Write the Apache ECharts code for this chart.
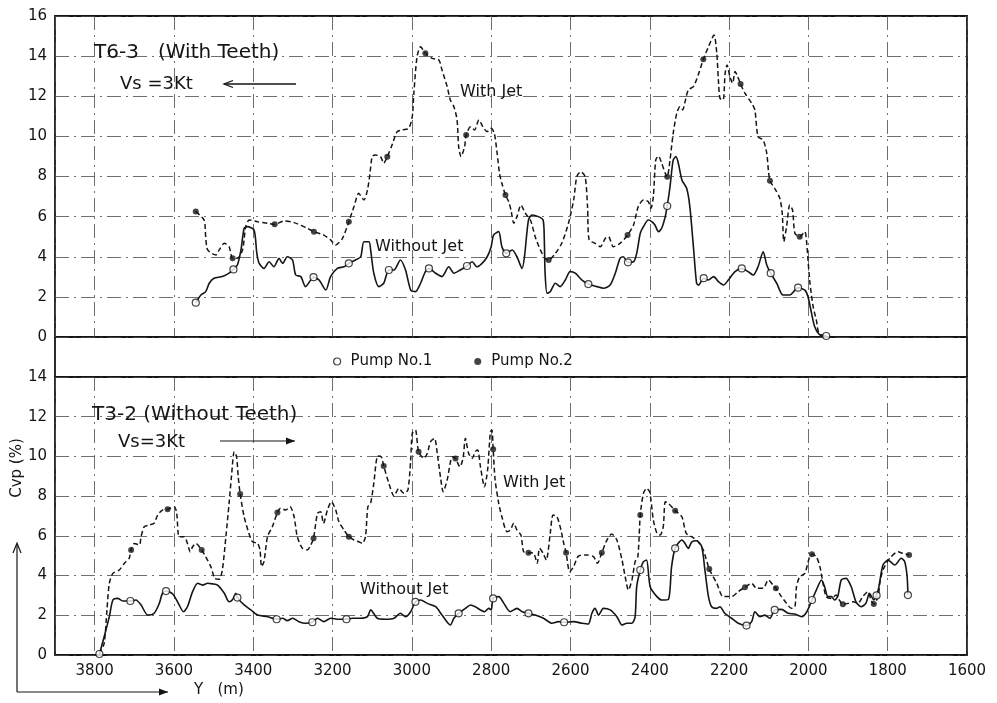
<!DOCTYPE html>
<html>
<head>
<meta charset="utf-8">
<script src="https://cdn.jsdelivr.net/npm/echarts@6/dist/echarts.min.js"></script>
<style>
  html, body { margin: 0; padding: 0; background: #fff; }
  #main { width: 997px; height: 703px; }
</style>
</head>
<body>
<div id="main"></div>
<script>
// Cvp (%) along track position Y (m); upper panel T6-3 (with teeth), lower panel T3-2 (without teeth)

const topWithJet = [
  [3545,6.25],[3524,5.83],[3520,5.0],[3515,4.34],[3494,4.09],[3486,4.34],[3473,4.67],[3461,4.5],[3452,3.92],[3440,3.92],
  [3427,4.34],[3419,5.5],[3410,5.83],[3389,5.75],[3364,5.67],[3346,5.62],[3322,5.78],[3297,5.7],[3264,5.42],[3247,5.25],
  [3222,5.08],[3205,4.84],[3192,4.59],[3175,4.92],[3159,5.75],[3146,6.5],[3134,7.16],[3121,6.83],[3112,7.33],[3106,8.1],
  [3100,9.0],[3092,9.07],[3079,8.99],[3071,8.66],[3062,8.99],[3050,9.57],[3037,10.24],[3024,10.32],[3008,10.4],[2999,10.98],
  [2995,12.15],[2987,13.97],[2978,14.47],[2966,14.14],[2949,13.89],[2932,13.81],[2924,13.31],[2911,12.48],[2903,11.81],[2894,11.48],
  [2886,10.82],[2882,9.49],[2876,8.99],[2867,9.49],[2863,10.07],[2852,10.48],[2842,10.32],[2831,10.82],[2821,10.48],[2810,10.24],
  [2800,10.4],[2792,10.15],[2785,9.16],[2779,8.16],[2773,7.66],[2764,7.08],[2756,6.75],[2750,6.33],[2743,5.67],[2735,6.0],
  [2725,6.58],[2714,6.17],[2701,5.83],[2689,5.0],[2676,4.34],[2664,3.92],[2655,3.84],[2638,4.17],[2622,4.67],[2605,5.67],
  [2592,6.83],[2584,8.0],[2574,8.24],[2563,7.99],[2557,6.5],[2553,4.84],[2538,4.67],[2525,4.5],[2512,4.92],[2504,5.0],
  [2492,4.5],[2475,4.67],[2456,5.08],[2441,5.58],[2429,6.5],[2416,6.83],[2404,6.75],[2397,6.42],[2391,7.0],[2385,8.82],
  [2378,9.02],[2370,8.66],[2361,8.16],[2356,7.99],[2349,8.82],[2341,10.15],[2332,11.15],[2324,11.48],[2317,11.32],[2311,11.73],
  [2303,12.31],[2290,12.48],[2278,13.06],[2265,13.84],[2252,14.47],[2238,15.05],[2231,14.14],[2227,12.81],[2223,11.9],[2215,11.81],
  [2210,13.14],[2205,13.56],[2198,12.98],[2191,12.65],[2185,13.23],[2180,13.06],[2171,12.61],[2160,12.15],[2143,11.65],[2135,11.32],
  [2127,9.98],[2114,9.82],[2105,9.16],[2101,8.33],[2097,7.79],[2085,7.41],[2072,6.91],[2066,6.17],[2062,4.75],[2055,5.5],
  [2047,6.58],[2040,6.33],[2034,5.17],[2022,5.0],[2009,5.25],[2005,4.84],[2001,3.84],[1996,2.68],[1988,1.51],[1980,0.85],
  [1973,0.18],[1955,0.05]
];

const topWithoutJet = [
  [3545,1.71],[3532,2.09],[3520,2.26],[3511,2.68],[3499,2.93],[3478,3.01],[3461,3.18],[3450,3.37],[3440,3.59],[3431,4.34],
  [3423,5.42],[3415,5.5],[3398,5.33],[3391,4.17],[3385,3.67],[3373,3.42],[3360,3.75],[3348,3.5],[3335,3.92],[3326,3.67],
  [3314,4.0],[3301,3.84],[3293,3.09],[3280,3.01],[3268,2.51],[3248,2.98],[3234,2.84],[3217,2.34],[3205,3.01],[3188,3.42],
  [3171,3.5],[3159,3.67],[3142,3.84],[3129,4.0],[3121,4.75],[3108,4.75],[3104,4.34],[3096,3.18],[3083,2.51],[3071,2.68],
  [3058,3.34],[3045,3.34],[3029,3.84],[3016,3.34],[3003,2.34],[2991,2.26],[2978,2.68],[2966,3.26],[2957,3.42],[2940,3.18],
  [2924,3.01],[2907,3.5],[2894,3.18],[2878,3.34],[2861,3.54],[2848,3.75],[2836,3.5],[2823,3.67],[2810,4.0],[2800,4.5],
  [2794,5.08],[2781,5.25],[2773,4.5],[2762,4.17],[2747,4.34],[2735,4.0],[2722,3.42],[2716,4.0],[2706,5.83],[2697,6.08],
  [2681,6.0],[2669,5.83],[2666,4.84],[2664,3.18],[2659,2.18],[2651,2.26],[2638,2.68],[2626,2.51],[2613,2.84],[2601,3.26],
  [2588,3.18],[2571,2.84],[2555,2.64],[2533,2.51],[2517,2.43],[2500,2.59],[2487,3.18],[2475,3.92],[2467,4.0],[2455,3.72],
  [2441,3.75],[2433,4.17],[2424,5.17],[2416,5.5],[2404,5.83],[2395,5.75],[2387,5.58],[2378,5.25],[2370,5.42],[2361,6.0],
  [2356,6.53],[2349,7.49],[2341,8.82],[2334,8.99],[2328,8.66],[2319,7.83],[2307,7.41],[2299,6.5],[2290,4.5],[2282,2.68],
  [2277,2.59],[2264,2.93],[2252,2.84],[2239,3.01],[2227,2.76],[2214,2.59],[2202,2.84],[2185,3.26],[2168,3.42],[2152,3.26],
  [2139,3.09],[2127,3.5],[2114,4.25],[2105,3.59],[2095,3.18],[2080,2.68],[2064,2.09],[2047,2.09],[2026,2.46],[2009,2.34],
  [2001,2.01],[1992,1.18],[1984,0.51],[1971,0.1],[1955,0.05]
];

const topPump1 = [
  [3545,1.71],[3450,3.37],[3248,2.98],[3159,3.67],[3058,3.34],[2957,3.42],[2861,3.54],[2762,4.17],
  [2555,2.64],[2455,3.72],[2356,6.53],[2264,2.93],[2168,3.42],[2095,3.18],[2026,2.46],[1955,0.05]
];
const topPump2 = [
  [3545,6.25],[3452,3.92],[3346,5.62],[3247,5.25],[3159,5.75],[3062,8.99],[2966,14.14],[2863,10.07],
  [2764,7.08],[2655,3.84],[2456,5.08],[2356,7.99],[2265,13.84],[2171,12.61],[2097,7.79],[2022,5.0]
];

const botWithJet = [
  [3788,0.05],[3776,0.59],[3769,2.27],[3763,3.61],[3754,4.11],[3738,4.28],[3725,4.62],[3713,4.87],[3708,5.29],[3700,5.62],
  [3687,5.54],[3683,5.96],[3675,6.46],[3662,6.55],[3650,6.63],[3641,7.05],[3629,7.3],[3616,7.34],[3599,7.47],[3593,7.13],
  [3587,5.96],[3574,5.96],[3566,5.62],[3559,5.2],[3553,5.45],[3545,5.62],[3530,5.29],[3520,4.95],[3507,4.45],[3497,3.86],
  [3486,3.81],[3478,4.28],[3469,5.96],[3461,7.64],[3455,8.98],[3448,10.24],[3442,9.98],[3438,8.98],[3433,8.11],[3423,6.96],
  [3411,6.13],[3402,5.7],[3389,5.62],[3383,5.29],[3379,4.45],[3373,4.7],[3364,5.96],[3352,6.46],[3339,7.17],[3331,7.39],
  [3318,7.3],[3307,7.47],[3297,6.96],[3289,5.96],[3276,5.37],[3264,5.29],[3255,5.54],[3248,5.88],[3238,7.13],[3230,7.22],
  [3223,6.63],[3213,7.3],[3203,7.72],[3192,7.3],[3184,6.71],[3171,6.29],[3159,5.96],[3146,5.79],[3134,5.7],[3125,5.62],
  [3117,5.96],[3111,7.47],[3104,7.64],[3096,8.65],[3086,10.02],[3077,9.98],[3071,9.52],[3058,8.65],[3045,8.01],[3033,8.39],
  [3020,8.14],[3010,8.31],[3003,9.82],[2999,11.16],[2991,11.33],[2983,10.24],[2970,9.9],[2961,10.16],[2953,10.74],[2943,10.91],
  [2936,10.16],[2928,8.98],[2921,8.22],[2911,8.81],[2898,9.98],[2890,9.9],[2879,9.48],[2871,9.9],[2865,10.91],[2857,10.16],
  [2848,9.9],[2840,10.24],[2834,10.32],[2827,9.48],[2817,8.47],[2809,9.32],[2802,11.24],[2798,11.33],[2795,10.36],[2790,8.81],
  [2781,7.64],[2773,6.96],[2760,6.21],[2752,6.29],[2743,6.63],[2735,6.29],[2725,6.04],[2718,5.2],[2706,5.15],[2693,5.12],
  [2684,4.62],[2678,5.37],[2669,5.12],[2661,4.78],[2651,6.13],[2644,7.05],[2634,6.96],[2624,6.29],[2617,5.62],[2611,5.15],
  [2602,4.19],[2592,4.45],[2580,4.98],[2559,5.04],[2542,4.95],[2532,4.62],[2521,5.15],[2508,5.79],[2496,6.09],[2483,5.79],
  [2470,4.78],[2462,3.94],[2454,3.27],[2445,3.78],[2437,4.7],[2430,4.95],[2424,7.05],[2416,8.14],[2408,8.39],[2400,8.2],
  [2391,6.8],[2382,6.13],[2374,6.04],[2366,6.46],[2361,7.72],[2353,7.64],[2336,7.27],[2319,6.96],[2308,6.13],[2290,5.9],
  [2278,5.7],[2265,5.29],[2250,4.33],[2231,3.61],[2215,2.94],[2194,2.94],[2177,3.19],[2160,3.41],[2143,3.61],[2131,3.36],
  [2114,3.36],[2101,3.78],[2089,3.52],[2082,3.36],[2068,2.94],[2055,2.6],[2043,2.35],[2034,2.43],[2030,3.44],[2022,3.94],
  [2009,4.11],[1997,4.95],[1991,5.07],[1980,4.95],[1971,4.45],[1963,3.61],[1955,2.94],[1942,2.85],[1930,3.02],[1922,2.77],
  [1913,2.55],[1900,2.6],[1887,2.68],[1875,2.6],[1863,2.94],[1850,3.19],[1842,2.77],[1835,2.57],[1824,2.94],[1820,3.61],
  [1812,4.28],[1795,4.87],[1774,5.2],[1762,5.12],[1746,5.04]
];

const botWithoutJet = [
  [3788,0.05],[3776,0.92],[3763,1.93],[3754,2.77],[3742,2.85],[3729,2.72],[3710,2.72],[3696,2.77],[3683,2.52],[3666,2.01],
  [3650,2.1],[3637,2.6],[3629,3.11],[3620,3.22],[3603,3.07],[3589,2.6],[3576,2.18],[3566,2.43],[3553,3.19],[3540,3.61],
  [3528,3.52],[3515,3.61],[3503,3.58],[3490,3.52],[3473,3.11],[3461,2.68],[3452,2.8],[3444,3.11],[3440,2.89],[3423,2.52],
  [3406,2.27],[3389,2.01],[3364,1.93],[3341,1.8],[3326,1.85],[3314,1.73],[3301,1.85],[3285,1.68],[3268,1.6],[3251,1.65],
  [3238,1.85],[3222,1.68],[3205,1.85],[3184,1.8],[3165,1.8],[3150,1.85],[3129,1.85],[3112,1.93],[3104,2.27],[3087,1.85],
  [3066,1.8],[3045,1.85],[3029,2.1],[3016,1.93],[3003,2.18],[2991,2.68],[2978,2.77],[2961,2.6],[2940,2.43],[2924,2.01],
  [2903,1.51],[2894,1.85],[2882,2.1],[2865,2.35],[2852,2.52],[2840,2.43],[2827,2.27],[2817,2.18],[2806,2.35],[2800,2.27],
  [2795,2.85],[2781,2.94],[2768,2.6],[2752,2.18],[2735,2.35],[2722,2.18],[2706,2.1],[2689,2.01],[2668,1.85],[2647,1.6],
  [2630,1.68],[2616,1.65],[2592,1.68],[2571,1.6],[2555,1.56],[2546,2.1],[2538,2.35],[2529,2.01],[2517,2.35],[2500,2.27],
  [2483,1.93],[2470,1.51],[2458,1.6],[2445,1.6],[2437,1.93],[2433,3.44],[2424,4.28],[2416,4.7],[2408,4.78],[2399,3.44],
  [2382,2.94],[2370,2.77],[2353,2.8],[2345,4.45],[2336,5.37],[2319,5.79],[2311,5.62],[2303,5.37],[2294,5.7],[2282,5.75],
  [2269,5.45],[2261,4.28],[2252,2.94],[2244,2.43],[2231,2.35],[2223,2.43],[2211,2.1],[2194,1.85],[2177,1.6],[2156,1.48],
  [2143,1.68],[2135,2.18],[2122,1.93],[2110,2.01],[2097,1.85],[2085,2.27],[2068,2.3],[2051,2.1],[2034,2.06],[2017,1.93],
  [2004,2.18],[1991,2.77],[1980,3.27],[1967,3.78],[1959,3.44],[1951,2.94],[1942,2.94],[1934,2.77],[1926,2.94],[1917,3.78],
  [1905,3.86],[1892,3.44],[1880,2.68],[1867,2.43],[1855,2.6],[1846,3.11],[1835,2.77],[1824,3.27],[1812,4.53],[1799,4.78],
  [1782,4.53],[1766,4.87],[1757,4.7],[1751,3.94],[1749,3.02]
];

const botPump1 = [
  [3788,0.05],[3710,2.72],[3620,3.22],[3440,2.89],[3341,1.8],[3251,1.65],[3165,1.8],[2991,2.68],[2882,2.1],
  [2795,2.85],[2706,2.1],[2616,1.65],[2424,4.28],[2336,5.37],[2156,1.48],[2085,2.27],[1991,2.77],[1828,3.0],[1749,3.02]
];
const botPump2 = [
  [3708,5.29],[3616,7.34],[3530,5.29],[3433,8.11],[3339,7.17],[3248,5.88],[3159,5.96],[3071,9.52],[2983,10.24],
  [2890,9.9],[2795,10.36],[2706,5.15],[2611,5.15],[2521,5.15],[2424,7.05],[2336,7.27],[2250,4.33],[2160,3.41],
  [2082,3.36],[1991,5.07],[1913,2.55],[1835,2.57],[1746,5.04]
];

const yTicksTop = { min: 0, max: 16, interval: 2 };
const yTicksBottom = { min: 0, max: 14, interval: 2 };
const xTicks = { min: 1600, max: 3900, interval: 200 };

const FONT = 'DejaVu Sans';
const INK = '#151515';

const chart = echarts.init(document.getElementById('main'), null, { renderer: 'canvas' });

const gridLine = { show: true, lineStyle: { color: '#4a4a4a', width: 0.8, type: [14, 5, 2, 5] } };

function xAxisFor(idx, showLabels) {
  return {
    gridIndex: idx, type: 'value', inverse: true,
    min: xTicks.min, max: xTicks.max, interval: xTicks.interval,
    axisLine: { show: false }, axisTick: { show: false },
    axisLabel: {
      show: showLabels, margin: 9, color: INK, fontFamily: FONT, fontSize: 15,
      showMaxLabel: false,
      formatter: v => (v === xTicks.max ? '' : String(v))
    },
    splitLine: gridLine
  };
}
function yAxisFor(idx, t) {
  return {
    gridIndex: idx, type: 'value', min: t.min, max: t.max, interval: t.interval,
    axisLine: { show: false }, axisTick: { show: false },
    axisLabel: { margin: 8, color: INK, fontFamily: FONT, fontSize: 15 },
    splitLine: gridLine
  };
}

function curve(name, data, idx, dashed) {
  return {
    name, type: 'line', data, xAxisIndex: idx, yAxisIndex: idx,
    showSymbol: false, smooth: 0.25, z: 3,
    lineStyle: { color: INK, width: dashed ? 1.5 : 1.6, type: dashed ? [5, 3] : 'solid' }
  };
}

const openMark = { color: '#fff', borderColor: INK, borderWidth: 1.2 };
const solidMark = { color: INK };

function pumps(name, data, idx, open) {
  return {
    name, type: 'scatter', data, xAxisIndex: idx, yAxisIndex: idx, z: 5,
    symbol: 'circle',
    symbolSize: open ? 7 : 6,
    itemStyle: open ? openMark : solidMark
  };
}

function txt(x, y, s, size, extra) {
  return Object.assign({
    type: 'text', x, y, z: 10,
    style: { text: s, fill: INK, font: `${size}px "${FONT}"`, textVerticalAlign: 'middle' }
  }, extra || {});
}

function arrowLeft(x1, x2, y) {
  return [
    { type: 'line', z: 10, shape: { x1, y1: y, x2, y2: y }, style: { stroke: INK, lineWidth: 1.5 } },
    { type: 'polyline', z: 10, shape: { points: [[x2 + 9, y - 3.5], [x2, y], [x2 + 9, y + 3.5]] }, style: { stroke: INK, lineWidth: 1.3, fill: null } }
  ];
}
function arrowRight(x1, x2, y) {
  return [
    { type: 'line', z: 10, shape: { x1, y1: y, x2, y2: y }, style: { stroke: INK, lineWidth: 1.2 } },
    { type: 'polygon', z: 10, shape: { points: [[x2 - 9, y - 3.5], [x2, y], [x2 - 9, y + 3.5]] }, style: { fill: INK } }
  ];
}

const gTop = { left: 55, right: 30, top: 16, height: 321 };
const gBot = { left: 55, right: 30, top: 377, height: 278 };
const frameRight = 997 - gTop.right;

const option = {
  backgroundColor: '#fff',
  animation: false,
  grid: [
    Object.assign({ show: true, borderColor: INK, borderWidth: 1.8, backgroundColor: 'transparent' }, gTop),
    Object.assign({ show: true, borderColor: INK, borderWidth: 1.8, backgroundColor: 'transparent' }, gBot)
  ],
  xAxis: [xAxisFor(0, false), xAxisFor(1, true)],
  yAxis: [yAxisFor(0, yTicksTop), yAxisFor(1, yTicksBottom)],
  legend: {
    left: 328, top: 349, itemGap: 42, itemWidth: 7, itemHeight: 7,
    textStyle: { color: INK, fontFamily: FONT, fontSize: 15, padding: [0, 0, 0, 5] },
    data: [
      { name: 'Pump No.1', icon: 'circle', itemStyle: openMark },
      { name: 'Pump No.2', icon: 'circle', itemStyle: solidMark }
    ]
  },
  series: [
    curve('With Jet (T6-3)', topWithJet, 0, true),
    curve('Without Jet (T6-3)', topWithoutJet, 0, false),
    pumps('Pump No.1', topPump1, 0, true),
    pumps('Pump No.2', topPump2, 0, false),
    curve('With Jet (T3-2)', botWithJet, 1, true),
    curve('Without Jet (T3-2)', botWithoutJet, 1, false),
    pumps('Pump No.1', botPump1, 1, true),
    pumps('Pump No.2', botPump2, 1, false)
  ],
  graphic: [
    // sides of the band that holds the pump key
    { type: 'line', z: 10, shape: { x1: gTop.left, y1: gTop.top + gTop.height, x2: gTop.left, y2: gBot.top }, style: { stroke: INK, lineWidth: 1.8 } },
    { type: 'line', z: 10, shape: { x1: frameRight, y1: gTop.top + gTop.height, x2: frameRight, y2: gBot.top }, style: { stroke: INK, lineWidth: 1.8 } },

    // upper panel notes
    txt(94, 53, 'T6-3   (With Teeth)', 20),
    txt(120, 84, 'Vs =3Kt', 18),
    ...arrowLeft(296, 224, 84),
    txt(460, 92, 'With Jet', 16),
    txt(375, 247, 'Without Jet', 16),

    // lower panel notes
    txt(92, 415, 'T3-2 (Without Teeth)', 20),
    txt(118, 442, 'Vs=3Kt', 18),
    ...arrowRight(220, 295, 441),
    txt(503, 483, 'With Jet', 16),
    txt(360, 590, 'Without Jet', 16),

    // axis titles
    txt(194, 690, 'Y   (m)', 15),
    {
      type: 'text', x: 17, y: 468, rotation: Math.PI / 2, z: 10,
      style: { text: 'Cvp (%)', fill: INK, font: `15px "${FONT}"`, textAlign: 'center', textVerticalAlign: 'middle' }
    },
    { type: 'line', z: 10, shape: { x1: 17, y1: 692, x2: 17, y2: 544 }, style: { stroke: INK, lineWidth: 1.2 } },
    { type: 'polyline', z: 10, shape: { points: [[13, 553], [17, 543], [21, 553]] }, style: { stroke: INK, lineWidth: 1.2, fill: null } },
    ...arrowRight(17, 168, 692)
  ]
};

chart.setOption(option);
</script>
</body>
</html>
